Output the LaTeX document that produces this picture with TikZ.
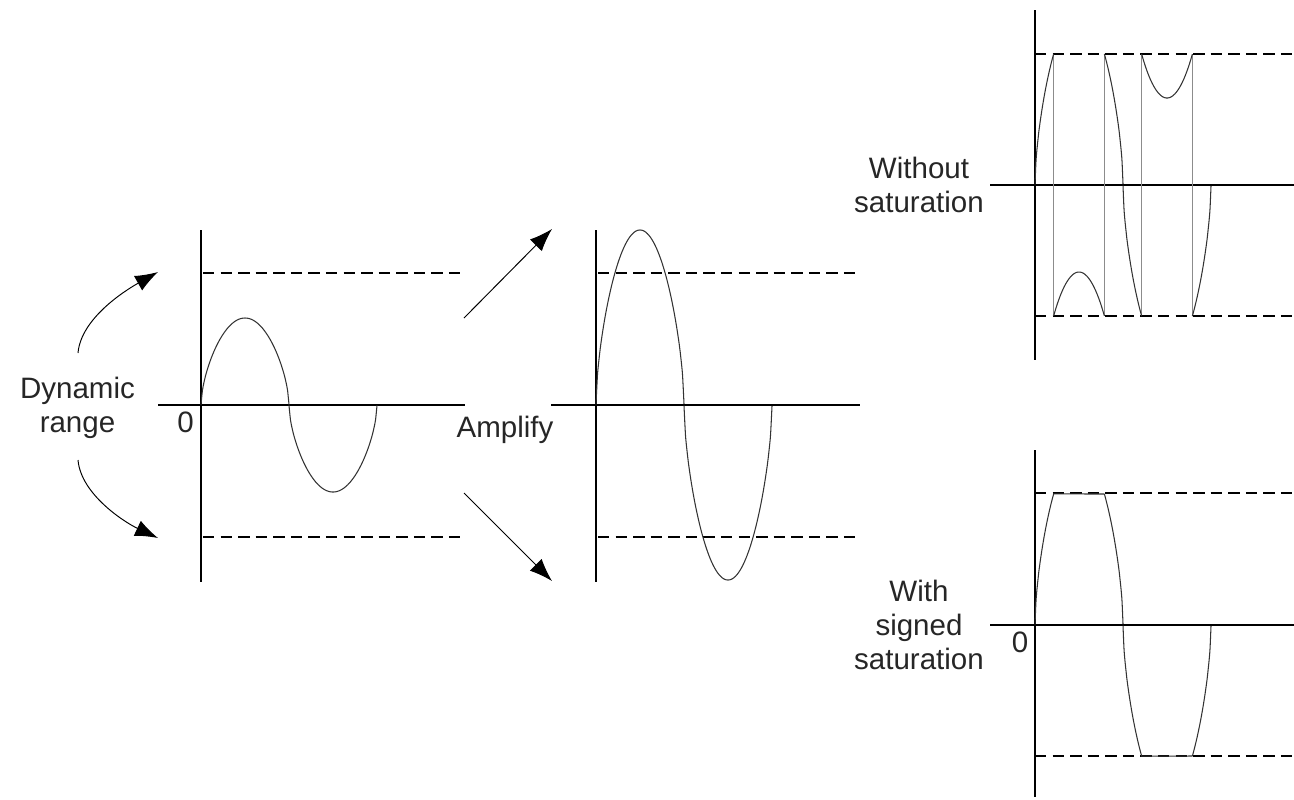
\documentclass[tikz,border=0pt]{standalone}
\usepackage{fontspec}
\setmainfont{Liberation Sans}
\usetikzlibrary{arrows.meta}

\tikzset{
  axis/.style={line width=0.7pt},
  limit/.style={line width=0.7pt, dash pattern=on 6.5pt off 3.5pt},
  wave/.style={line width=0.6pt, black!80},
  wrapline/.style={line width=0.6pt, black!45},
  arr/.style={line width=0.55pt, -{Latex[length=13pt,width=9.5pt]}},
  lbl/.style={font=\fontsize{16.8}{19.35}\selectfont, text=black!85, align=center, inner sep=0pt},
}

\begin{document}
\begin{tikzpicture}[x=0.02cm, y=-0.02cm,
    declare function={hw(\t)=(abs(sin(\t/88*180))+0.0001)^0.6;}]
  \useasboundingbox (0,0) rectangle (1294,799);

  % input signal
  \coordinate (VT1) at (201,230);
  \coordinate (VB1) at (201,582);
  \coordinate (HL1) at (158,405);
  \coordinate (HR1) at (465,405);
  \coordinate (UL1) at (203,273);
  \coordinate (UR1) at (465,273);
  \coordinate (LL1) at (203,537);
  \coordinate (LR1) at (465,537);

  \draw[axis] (VT1)--(VB1) (HL1)--(HR1);
  \draw[limit] (UL1)--(UR1) (LL1)--(LR1);
  \draw[wave] plot[domain=0:88, samples=61, smooth] ({201+\x},{405-87*hw(\x)});
  \draw[wave] plot[domain=88:176, samples=61, smooth] ({201+\x},{405+87*hw(\x)});

  \node[lbl] (dr) at (77.5,407.5) {Dynamic\\range};
  \node[lbl] (z1) at (185.5,422.5) {0};

  \coordinate (DU)  at (78,353);
  \coordinate (DUT) at (158,272);
  \coordinate (DL)  at (78,460);
  \coordinate (DLT) at (158,538);
  \draw[arr] (DU) .. controls (81,318) and (126,290) .. (DUT);
  \draw[arr] (DL) .. controls (81,495) and (126,523) .. (DLT);

  % amplified signal
  \coordinate (VT2) at (596,230);
  \coordinate (VB2) at (596,582);
  \coordinate (HL2) at (551,405);
  \coordinate (HR2) at (860,405);
  \coordinate (UL2) at (598,273);
  \coordinate (UR2) at (860,273);
  \coordinate (LL2) at (598,537);
  \coordinate (LR2) at (860,537);

  \draw[axis] (VT2)--(VB2) (HL2)--(HR2);
  \draw[limit] (UL2)--(UR2) (LL2)--(LR2);
  \draw[wave] plot[domain=0:88, samples=61, smooth] ({596+\x},{405-175*hw(\x)});
  \draw[wave] plot[domain=88:176, samples=61, smooth] ({596+\x},{405+175*hw(\x)});

  \node[lbl] (amp) at (505,430) {Amplify};
  \coordinate (AU)  at (464,318);
  \coordinate (AUT) at (552,229);
  \coordinate (AL)  at (464,493);
  \coordinate (ALT) at (552,581);
  \draw[arr] (AU)--(AUT);
  \draw[arr] (AL)--(ALT);

  % without saturation
  \coordinate (VT3) at (1035,10);
  \coordinate (VB3) at (1035,360);
  \coordinate (HL3) at (990,185);
  \coordinate (HR3) at (1294,185);
  \coordinate (UL3) at (1035,54);
  \coordinate (UR3) at (1294,54);
  \coordinate (LL3) at (1035,316);
  \coordinate (LR3) at (1294,316);

  \draw[axis] (VT3)--(VB3) (HL3)--(HR3);
  \draw[limit] (UL3)--(UR3) (LL3)--(LR3);
  \foreach \t in {18.65,69.35,106.65,157.35}
    \draw[wrapline] ({1035+\t},54)--({1035+\t},316);
  \begin{scope}[shift={(1035,185)}]
    \draw[wave] plot[domain=0:18.65, samples=20, smooth] (\x,{-175*hw(\x)});
    \draw[wave] plot[domain=18.65:69.35, samples=30, smooth] (\x,{262-175*hw(\x)});
    \draw[wave] plot[domain=69.35:88, samples=20, smooth] (\x,{-175*hw(\x)});
    \draw[wave] plot[domain=88:106.65, samples=20, smooth] (\x,{175*hw(\x)});
    \draw[wave] plot[domain=106.65:157.35, samples=30, smooth] (\x,{175*hw(\x)-262});
    \draw[wave] plot[domain=157.35:176, samples=20, smooth] (\x,{175*hw(\x)});
  \end{scope}

  \node[lbl] (wo) at (919,185.3) {Without\\saturation};

  % with signed saturation
  \coordinate (VT4) at (1035,450);
  \coordinate (VB4) at (1035,797);
  \coordinate (HL4) at (990,625);
  \coordinate (HR4) at (1294,625);
  \coordinate (UL4) at (1035,493);
  \coordinate (UR4) at (1294,493);
  \coordinate (LL4) at (1035,756);
  \coordinate (LR4) at (1294,756);

  \draw[axis] (VT4)--(VB4) (HL4)--(HR4);
  \draw[limit] (UL4)--(UR4) (LL4)--(LR4);
  \begin{scope}[shift={(1035,625)}]
    \draw[wave] plot[domain=0:18.65, samples=20, smooth] (\x,{-175*hw(\x)})
      -- (69.35,-131);
    \draw[wave] plot[domain=69.35:88, samples=20, smooth] (\x,{-175*hw(\x)});
    \draw[wave] plot[domain=88:106.65, samples=20, smooth] (\x,{175*hw(\x)})
      -- (157.35,131);
    \draw[wave] plot[domain=157.35:176, samples=20, smooth] (\x,{175*hw(\x)});
  \end{scope}

  \node[lbl] (ws) at (919,625.4) {With\\signed\\saturation};
  \node[lbl] (z4) at (1020,642.5) {0};
\end{tikzpicture}
\end{document}
